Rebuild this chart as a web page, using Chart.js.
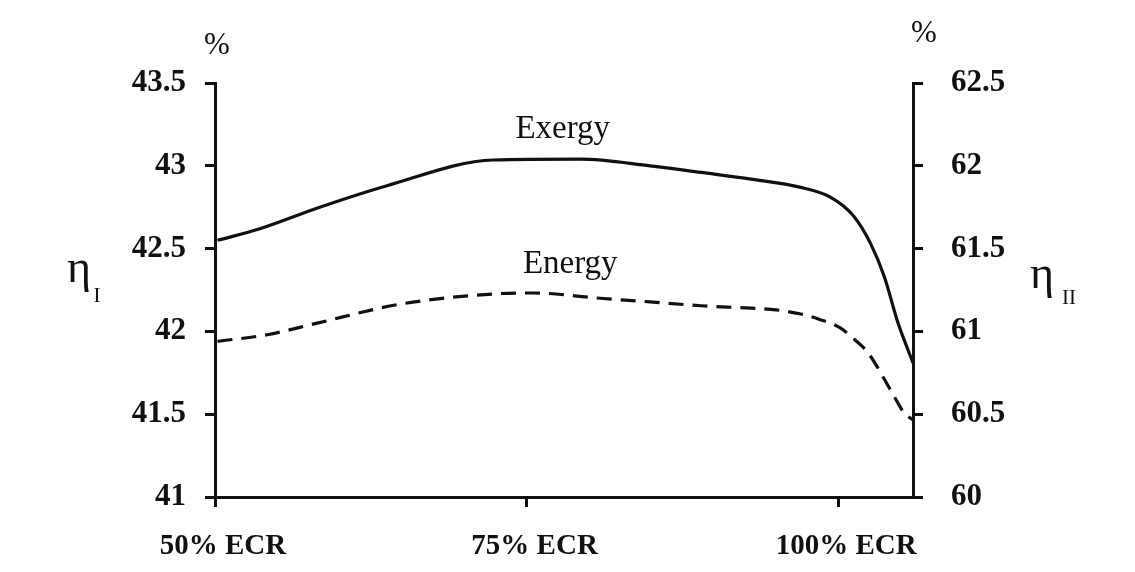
<!DOCTYPE html>
<html>
<head>
<meta charset="utf-8">
<script src="https://cdn.jsdelivr.net/npm/chart.js@4/dist/chart.umd.min.js"></script>
<style>
  body { margin: 0; background: #fff; }
  #wrap { width: 1135px; height: 572px; }
</style>
</head>
<body>
<div id="wrap"><canvas id="grafico" width="1135" height="572"></canvas></div>
<script>
// datos
const ecrTicks = [50, 75, 100];
const ecrLabels = ['50% ECR', '75% ECR', '100% ECR'];

const exergyX = [50.2, 53.6, 58.4, 63.8, 72.3, 79.3, 84.9, 89.0, 93.0, 97.0, 99.4, 101.2, 102.6, 103.7, 104.8, 106.0];
const exergyY = [61.55, 61.62, 61.75, 61.88, 62.035, 62.04, 62.0, 61.96, 61.92, 61.87, 61.81, 61.70, 61.53, 61.33, 61.05, 60.81];

const energyX = [50.2, 54.2, 58.2, 64.9, 72.3, 75.5, 80.9, 84.9, 89.0, 93.0, 95.0, 97.0, 98.4, 100.2, 101.0, 102.4, 104.2, 105.3, 106.0];
const energyY = [41.94, 41.98, 42.05, 42.165, 42.226, 42.232, 42.20, 42.178, 42.155, 42.14, 42.13, 42.105, 42.075, 42.02, 41.97, 41.87, 41.646, 41.507, 41.465];

const seriesNames = ['Exergy', 'Energy'];

const serif = "'Liberation Serif', 'DejaVu Serif', serif";

// etiquetas sueltas: nombres de curvas, % y eta
const textosPlugin = {
  id: 'textos',
  afterDraw(chart) {
    const ctx = chart.ctx;
    const x = chart.scales.x;
    const y = chart.scales.y;
    ctx.save();
    ctx.fillStyle = '#111';
    ctx.textAlign = 'center';
    ctx.textBaseline = 'alphabetic';
    ctx.font = '33px ' + serif;
    ctx.fillText(seriesNames[0], x.getPixelForValue(77.9), y.getPixelForValue(43.17));
    ctx.fillText(seriesNames[1], x.getPixelForValue(78.5), y.getPixelForValue(42.35));

    // simbolo % arriba de cada eje
    ctx.font = '31px ' + serif;
    ctx.textBaseline = 'middle';
    ctx.fillText('%', chart.chartArea.left + 2, 46);
    ctx.fillText('%', chart.chartArea.right + 11, 34);

    // eta I y eta II
    ctx.font = '46px ' + serif;
    ctx.fillText('\u03B7', 79, 270);
    ctx.fillText('\u03B7', 1042, 276);
    ctx.font = '21px ' + serif;
    ctx.fillText('I', 97, 296);
    ctx.fillText('II', 1069, 298);
    ctx.restore();
  }
};

const ctx = document.getElementById('grafico').getContext('2d');

new Chart(ctx, {
  type: 'line',
  data: {
    datasets: [
      {
        label: seriesNames[0],
        data: exergyX.map((v, i) => ({ x: v, y: exergyY[i] })),
        yAxisID: 'y2',
        borderColor: '#111',
        borderWidth: 3.2,
        pointRadius: 0,
        cubicInterpolationMode: 'monotone',
        fill: false
      },
      {
        label: seriesNames[1],
        data: energyX.map((v, i) => ({ x: v, y: energyY[i] })),
        yAxisID: 'y',
        borderColor: '#111',
        borderWidth: 3.2,
        borderDash: [15, 9],
        pointRadius: 0,
        cubicInterpolationMode: 'monotone',
        fill: false
      }
    ]
  },
  options: {
    responsive: false,
    animation: false,
    layout: { padding: { top: 83, left: 0, right: 0, bottom: 0 } },
    plugins: {
      legend: { display: false },
      tooltip: { enabled: false },
      title: { display: false }
    },
    scales: {
      x: {
        type: 'linear',
        min: 50,
        max: 106,
        afterBuildTicks: (scale) => { scale.ticks = ecrTicks.map(v => ({ value: v })); },
        afterFit: (scale) => { scale.height = 75; },
        border: { color: '#111', width: 3 },
        grid: { drawOnChartArea: false, color: '#111', tickColor: '#111', tickLength: 10, lineWidth: 3 },
        ticks: {
          color: '#111',
          padding: 22,
          labelOffset: 8,
          maxRotation: 0,
          font: { family: serif, size: 29, weight: 'bold' },
          callback: (v) => ecrLabels[ecrTicks.indexOf(v)]
        }
      },
      y: {
        position: 'left',
        min: 41,
        max: 43.5,
        afterFit: (scale) => { scale.width = 215; },
        border: { color: '#111', width: 3 },
        grid: { drawOnChartArea: false, color: '#111', tickColor: '#111', tickLength: 10, lineWidth: 3 },
        ticks: {
          stepSize: 0.5,
          color: '#111',
          padding: 19,
          font: { family: serif, size: 31, weight: 'bold' },
          callback: (v) => String(+v.toFixed(1))
        }
      },
      y2: {
        position: 'right',
        min: 60,
        max: 62.5,
        afterFit: (scale) => { scale.width = 222; },
        border: { color: '#111', width: 3 },
        grid: { drawOnChartArea: false, color: '#111', tickColor: '#111', tickLength: 10, lineWidth: 3 },
        ticks: {
          stepSize: 0.5,
          color: '#111',
          padding: 28,
          font: { family: serif, size: 31, weight: 'bold' },
          callback: (v) => String(+v.toFixed(1))
        }
      }
    }
  },
  plugins: [textosPlugin]
});
</script>
</body>
</html>
